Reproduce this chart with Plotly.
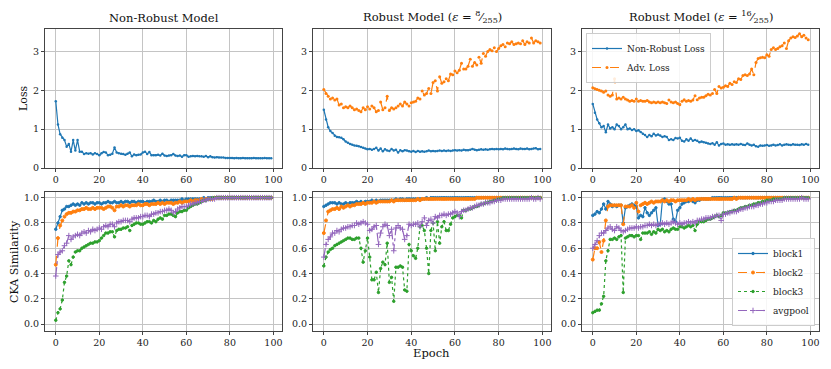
import plotly.graph_objects as go
from plotly.subplots import make_subplots

epochs = list(range(100))

# top row: loss curves
loss_nonrobust = [1.72, 1.12, 0.87, 0.78, 0.72, 0.55, 0.62, 0.42, 0.72, 0.45,
                  0.72, 0.42, 0.42, 0.36, 0.38, 0.37, 0.38, 0.35, 0.38, 0.36,
                  0.33, 0.38, 0.41, 0.40, 0.33, 0.34, 0.37, 0.53, 0.40, 0.38,
                  0.37, 0.36, 0.34, 0.37, 0.40, 0.30, 0.35, 0.33, 0.34, 0.35,
                  0.40, 0.42, 0.36, 0.41, 0.33, 0.33, 0.33, 0.34, 0.32, 0.37,
                  0.32, 0.31, 0.32, 0.33, 0.36, 0.32, 0.31, 0.32, 0.29, 0.33,
                  0.33, 0.29, 0.30, 0.31, 0.30, 0.31, 0.30, 0.30, 0.29, 0.31,
                  0.28, 0.30, 0.28, 0.27, 0.28, 0.27, 0.27, 0.27, 0.26, 0.26,
                  0.26, 0.26, 0.25, 0.26, 0.25, 0.25, 0.26, 0.25, 0.25, 0.25,
                  0.25, 0.26, 0.25, 0.25, 0.25, 0.25, 0.26, 0.25, 0.25, 0.25]

loss_eps8 = [1.50, 1.25, 1.05, 0.95, 0.90, 0.83, 0.80, 0.79, 0.78, 0.74,
             0.68, 0.65, 0.62, 0.60, 0.58, 0.57, 0.56, 0.54, 0.52, 0.50,
             0.48, 0.49, 0.47, 0.49, 0.52, 0.45, 0.50, 0.43, 0.48, 0.45,
             0.44, 0.49, 0.45, 0.47, 0.40, 0.46, 0.43, 0.46, 0.45, 0.43,
             0.42, 0.44, 0.41, 0.44, 0.42, 0.43, 0.42, 0.43, 0.45, 0.43,
             0.44, 0.43, 0.44, 0.45, 0.44, 0.45, 0.44, 0.45, 0.44, 0.45,
             0.46, 0.45, 0.46, 0.45, 0.47, 0.46, 0.46, 0.47, 0.49, 0.47,
             0.46, 0.47, 0.48, 0.47, 0.48, 0.47, 0.48, 0.49, 0.48, 0.49,
             0.48, 0.49, 0.48, 0.50, 0.49, 0.48, 0.49, 0.50, 0.49, 0.48,
             0.50, 0.49, 0.49, 0.50, 0.48, 0.49, 0.50, 0.51, 0.48, 0.49]

adv_loss_eps8 = [2.02, 1.92, 1.85, 1.78, 1.80, 1.75, 1.78, 1.62, 1.65, 1.55,
                 1.58, 1.55, 1.60, 1.55, 1.50, 1.52, 1.48, 1.45, 1.55, 1.50,
                 1.58, 1.52, 1.60, 1.55, 1.45, 1.48, 1.70, 1.50, 1.55, 1.85,
                 1.48, 1.55, 1.52, 1.55, 1.60, 1.65, 1.60, 1.70, 1.65, 1.60,
                 1.68, 1.70, 1.72, 1.80, 1.78, 1.98, 1.88, 1.92, 2.05, 1.92,
                 2.20, 2.25, 1.98, 2.35, 2.18, 2.22, 2.30, 2.25, 2.42, 2.40,
                 2.50, 2.45, 2.52, 2.70, 2.55, 2.55, 2.62, 2.80, 2.62, 2.72,
                 2.65, 2.85, 2.70, 2.95, 2.88, 3.00, 3.05, 3.02, 3.10, 3.00,
                 3.08, 3.15, 3.18, 3.12, 3.22, 3.20, 3.25, 3.18, 3.20, 3.22,
                 3.20, 3.28, 3.18, 3.25, 3.22, 3.35, 3.22, 3.28, 3.25, 3.22]

loss_eps16 = [1.65, 1.42, 1.25, 1.15, 1.05, 1.08, 0.92, 1.12, 1.02, 1.05,
              1.00, 1.12, 1.08, 1.00, 1.05, 1.12, 1.00, 1.02, 0.98, 1.00,
              0.95, 0.97, 0.93, 0.88, 0.85, 0.80, 0.85, 0.82, 0.88, 0.84,
              0.86, 0.84, 0.80, 0.82, 0.80, 0.72, 0.74, 0.72, 0.77, 0.76,
              0.78, 0.70, 0.68, 0.74, 0.70, 0.76, 0.70, 0.72, 0.70, 0.66,
              0.68, 0.66, 0.65, 0.63, 0.62, 0.64, 0.60, 0.66, 0.58, 0.62,
              0.63, 0.60, 0.61, 0.60, 0.61, 0.60, 0.61, 0.60, 0.62, 0.60,
              0.59, 0.63, 0.60, 0.58, 0.60, 0.56, 0.55, 0.58, 0.57, 0.58,
              0.59, 0.57, 0.58, 0.60, 0.58, 0.59, 0.61, 0.58, 0.60, 0.61,
              0.60, 0.59, 0.61, 0.60, 0.60, 0.59, 0.61, 0.60, 0.62, 0.60]

adv_loss_eps16 = [2.07, 2.04, 2.02, 2.00, 1.98, 1.95, 1.98, 1.88, 1.85, 1.88,
                  2.30, 1.78, 1.80, 1.78, 1.82, 1.78, 1.75, 1.72, 1.74, 1.72,
                  1.78, 1.72, 1.74, 1.72, 1.72, 1.74, 1.70, 1.68, 1.70, 1.68,
                  1.70, 1.68, 1.70, 1.68, 1.66, 1.75, 1.70, 1.68, 1.70, 1.66,
                  1.63, 1.72, 1.76, 1.72, 1.74, 1.72, 1.75, 1.86, 1.76, 1.80,
                  1.82, 1.82, 1.86, 1.90, 1.88, 1.92, 2.02, 1.92, 2.10, 2.06,
                  2.08, 2.12, 2.10, 2.18, 2.15, 2.22, 2.20, 2.30, 2.28, 2.38,
                  2.40, 2.38, 2.42, 2.55, 2.40, 2.72, 2.82, 2.84, 2.85, 2.84,
                  2.92, 2.88, 3.05, 3.10, 3.05, 3.08, 3.12, 3.15, 3.22, 3.08,
                  3.28, 3.35, 3.38, 3.36, 3.40, 3.46, 3.38, 3.42, 3.35, 3.30]

# bottom row: CKA similarity, non-robust model
nr_block1 = [0.75, 0.80, 0.85, 0.90, 0.91, 0.93, 0.93, 0.94, 0.95, 0.94,
             0.95, 0.94, 0.96, 0.95, 0.96, 0.95, 0.96, 0.96, 0.95, 0.96,
             0.96, 0.95, 0.96, 0.96, 0.97, 0.96, 0.96, 0.97, 0.96, 0.96,
             0.97, 0.96, 0.97, 0.97, 0.96, 0.97, 0.97, 0.96, 0.97, 0.97,
             0.97, 0.96, 0.97, 0.97, 0.97, 0.98, 0.97, 0.97, 0.98, 0.97,
             0.98, 0.98, 0.97, 0.98, 0.98, 0.98, 0.98, 0.98, 0.99, 0.98,
             0.99, 0.99, 0.99, 0.99, 0.99, 0.99, 0.99, 0.99, 1.00, 0.99,
             1.00, 1.00, 1.00, 1.00, 1.00, 1.00, 1.00, 1.00, 1.00, 1.00,
             1.00, 1.00, 1.00, 1.00, 1.00, 1.00, 1.00, 1.00, 1.00, 1.00,
             1.00, 1.00, 1.00, 1.00, 1.00, 1.00, 1.00, 1.00, 1.00, 1.00]
nr_block2 = [0.47, 0.68, 0.78, 0.82, 0.85, 0.87, 0.88, 0.88, 0.89, 0.89,
             0.90, 0.90, 0.91, 0.91, 0.92, 0.91, 0.91, 0.92, 0.91, 0.92,
             0.92, 0.92, 0.91, 0.92, 0.93, 0.93, 0.92, 0.90, 0.93, 0.93,
             0.94, 0.93, 0.94, 0.94, 0.93, 0.94, 0.94, 0.94, 0.95, 0.94,
             0.94, 0.95, 0.95, 0.94, 0.95, 0.95, 0.95, 0.96, 0.95, 0.96,
             0.95, 0.96, 0.96, 0.96, 0.95, 0.96, 0.96, 0.97, 0.96, 0.97,
             0.97, 0.97, 0.98, 0.97, 0.98, 0.98, 0.98, 0.99, 0.98, 0.99,
             0.99, 0.99, 0.99, 1.00, 1.00, 1.00, 1.00, 1.00, 1.00, 1.00,
             1.00, 1.00, 1.00, 1.00, 1.00, 1.00, 1.00, 1.00, 1.00, 1.00,
             1.00, 1.00, 1.00, 1.00, 1.00, 1.00, 1.00, 1.00, 1.00, 1.00]
nr_block3 = [0.03, 0.09, 0.12, 0.19, 0.33, 0.38, 0.50, 0.47, 0.53, 0.57,
             0.58, 0.58, 0.60, 0.61, 0.62, 0.63, 0.64, 0.64, 0.65, 0.65,
             0.66, 0.68, 0.70, 0.72, 0.72, 0.73, 0.73, 0.69, 0.74, 0.75,
             0.75, 0.76, 0.76, 0.77, 0.74, 0.78, 0.79, 0.80, 0.80, 0.79,
             0.79, 0.80, 0.81, 0.81, 0.80, 0.82, 0.81, 0.83, 0.84, 0.83,
             0.86, 0.86, 0.87, 0.87, 0.86, 0.85, 0.88, 0.89, 0.89, 0.90,
             0.90, 0.92, 0.93, 0.94, 0.95, 0.95, 0.96, 0.97, 0.98, 0.98,
             0.99, 0.99, 1.00, 1.00, 1.00, 1.00, 1.00, 1.00, 1.00, 1.00,
             1.00, 1.00, 1.00, 1.00, 1.00, 1.00, 1.00, 1.00, 1.00, 1.00,
             1.00, 1.00, 1.00, 1.00, 1.00, 1.00, 1.00, 1.00, 1.00, 1.00]
nr_avgpool = [0.38, 0.55, 0.57, 0.58, 0.62, 0.64, 0.70, 0.67, 0.69, 0.70,
              0.71, 0.70, 0.72, 0.73, 0.72, 0.74, 0.73, 0.75, 0.74, 0.75,
              0.76, 0.75, 0.77, 0.78, 0.77, 0.79, 0.79, 0.77, 0.80, 0.81,
              0.81, 0.82, 0.82, 0.82, 0.81, 0.83, 0.84, 0.84, 0.84, 0.85,
              0.85, 0.86, 0.86, 0.85, 0.87, 0.87, 0.88, 0.88, 0.89, 0.89,
              0.90, 0.90, 0.91, 0.90, 0.88, 0.89, 0.91, 0.92, 0.93, 0.93,
              0.93, 0.94, 0.95, 0.95, 0.96, 0.96, 0.97, 0.97, 0.98, 0.98,
              0.99, 0.99, 0.99, 0.99, 1.00, 1.00, 1.00, 1.00, 1.00, 1.00,
              1.00, 1.00, 1.00, 1.00, 1.00, 1.00, 1.00, 1.00, 1.00, 1.00,
              1.00, 1.00, 1.00, 1.00, 1.00, 1.00, 1.00, 1.00, 1.00, 1.00]

# robust eps=8/255
e8_block1 = [0.93, 0.94, 0.95, 0.96, 0.96, 0.96, 0.95, 0.96, 0.95, 0.95,
             0.96, 0.95, 0.96, 0.96, 0.96, 0.97, 0.96, 0.97, 0.96, 0.97,
             0.97, 0.97, 0.98, 0.97, 0.98, 0.97, 0.98, 0.98, 0.98, 0.98,
             0.98, 0.98, 0.98, 0.99, 0.98, 0.99, 0.99, 0.98, 0.99, 0.99,
             0.99, 0.99, 0.99, 0.99, 0.99, 0.99, 0.99, 1.00, 0.99, 1.00,
             1.00, 1.00, 1.00, 1.00, 1.00, 1.00, 1.00, 1.00, 1.00, 1.00,
             1.00, 1.00, 1.00, 1.00, 1.00, 1.00, 1.00, 1.00, 1.00, 1.00,
             1.00, 1.00, 1.00, 1.00, 1.00, 1.00, 1.00, 1.00, 1.00, 1.00,
             1.00, 1.00, 1.00, 1.00, 1.00, 1.00, 1.00, 1.00, 1.00, 1.00,
             1.00, 1.00, 1.00, 1.00, 1.00, 1.00, 1.00, 1.00, 1.00, 1.00]
e8_block2 = [0.72, 0.82, 0.89, 0.90, 0.91, 0.91, 0.92, 0.91, 0.93, 0.92,
             0.93, 0.94, 0.93, 0.94, 0.94, 0.95, 0.95, 0.95, 0.96, 0.95,
             0.96, 0.96, 0.96, 0.97, 0.96, 0.97, 0.97, 0.97, 0.97, 0.97,
             0.97, 0.98, 0.97, 0.98, 0.98, 0.98, 0.98, 0.98, 0.98, 0.98,
             0.98, 0.98, 0.98, 0.99, 0.98, 0.99, 0.99, 0.99, 0.99, 0.99,
             0.99, 0.99, 0.99, 0.99, 0.99, 0.99, 0.99, 0.99, 0.99, 0.99,
             0.99, 0.99, 0.99, 0.99, 0.99, 0.99, 0.99, 0.99, 0.99, 0.99,
             1.00, 1.00, 1.00, 1.00, 1.00, 1.00, 1.00, 1.00, 1.00, 1.00,
             1.00, 1.00, 1.00, 1.00, 1.00, 1.00, 1.00, 1.00, 1.00, 1.00,
             1.00, 1.00, 1.00, 1.00, 1.00, 1.00, 1.00, 1.00, 1.00, 1.00]
e8_block3 = [0.46, 0.53, 0.57, 0.59, 0.60, 0.62, 0.63, 0.64, 0.65, 0.66,
             0.67, 0.68, 0.68, 0.67, 0.67, 0.68, 0.68, 0.60, 0.49, 0.58,
             0.68, 0.53, 0.35, 0.35, 0.41, 0.25, 0.44, 0.49, 0.47, 0.64,
             0.33, 0.37, 0.18, 0.45, 0.45, 0.46, 0.45, 0.27, 0.26, 0.63,
             0.58, 0.54, 0.52, 0.60, 0.77, 0.78, 0.74, 0.60, 0.40, 0.74,
             0.80, 0.58, 0.81, 0.64, 0.77, 0.81, 0.74, 0.74, 0.79, 0.84,
             0.85, 0.86, 0.86, 0.84, 0.90, 0.90, 0.91, 0.91, 0.92, 0.93,
             0.93, 0.94, 0.95, 0.95, 0.96, 0.96, 0.97, 0.97, 0.98, 0.98,
             0.99, 0.99, 1.00, 1.00, 1.00, 1.00, 1.00, 1.00, 1.00, 1.00,
             1.00, 1.00, 1.00, 1.00, 1.00, 1.00, 1.00, 1.00, 1.00, 1.00]
e8_avgpool = [0.53, 0.63, 0.67, 0.69, 0.72, 0.72, 0.74, 0.73, 0.75, 0.76,
              0.76, 0.77, 0.77, 0.78, 0.78, 0.80, 0.79, 0.80, 0.81, 0.80,
              0.79, 0.74, 0.75, 0.77, 0.78, 0.63, 0.72, 0.77, 0.79, 0.78,
              0.70, 0.75, 0.58, 0.76, 0.78, 0.76, 0.75, 0.67, 0.70, 0.79,
              0.78, 0.79, 0.79, 0.80, 0.77, 0.81, 0.84, 0.78, 0.82, 0.83,
              0.80, 0.85, 0.84, 0.86, 0.86, 0.87, 0.86, 0.87, 0.87, 0.88,
              0.89, 0.88, 0.85, 0.89, 0.90, 0.90, 0.91, 0.92, 0.92, 0.93,
              0.94, 0.94, 0.95, 0.95, 0.96, 0.96, 0.96, 0.97, 0.97, 0.98,
              0.98, 0.98, 0.99, 0.99, 0.99, 0.99, 0.99, 0.99, 0.99, 0.99,
              0.99, 0.99, 0.99, 0.99, 0.99, 1.00, 0.99, 0.99, 1.00, 0.99]

# robust eps=16/255
e16_block1 = [0.86, 0.87, 0.89, 0.88, 0.91, 0.95, 0.91, 0.97, 0.95, 0.93,
              0.94, 0.93, 0.94, 0.94, 0.80, 0.92, 0.93, 0.94, 0.95, 0.94,
              0.93, 0.84, 0.86, 0.85, 0.92, 0.88, 0.86, 0.88, 0.90, 0.92,
              0.78, 0.79, 0.98, 0.99, 0.97, 0.95, 0.95, 0.83, 0.81, 0.90,
              0.92, 0.95, 0.96, 0.97, 0.97, 0.98, 0.97, 0.96, 0.98, 0.98,
              0.99, 0.99, 0.99, 0.99, 0.99, 1.00, 1.00, 1.00, 1.00, 1.00,
              1.00, 1.00, 1.00, 1.00, 1.00, 1.00, 1.00, 1.00, 1.00, 1.00,
              1.00, 1.00, 1.00, 1.00, 1.00, 1.00, 1.00, 1.00, 1.00, 1.00,
              1.00, 1.00, 1.00, 1.00, 1.00, 1.00, 1.00, 1.00, 1.00, 1.00,
              1.00, 1.00, 1.00, 1.00, 1.00, 1.00, 1.00, 1.00, 1.00, 1.00]
e16_block2 = [0.51, 0.60, 0.60, 0.65, 0.57, 0.66, 0.82, 0.93, 0.94, 0.94,
              0.94, 0.94, 0.94, 0.94, 0.79, 0.93, 0.93, 0.93, 0.94, 0.92,
              0.96, 0.89, 0.94, 0.95, 0.96, 0.95, 0.96, 0.97, 0.96, 0.97,
              0.97, 0.97, 0.98, 0.97, 0.98, 0.97, 0.98, 0.98, 0.97, 0.98,
              0.98, 0.98, 0.98, 0.98, 0.99, 0.98, 0.99, 0.98, 0.99, 0.99,
              0.99, 0.99, 0.99, 0.99, 0.99, 0.99, 0.99, 0.99, 0.99, 0.99,
              0.99, 0.99, 0.99, 0.99, 0.99, 1.00, 0.99, 1.00, 1.00, 1.00,
              1.00, 1.00, 1.00, 1.00, 1.00, 1.00, 1.00, 1.00, 1.00, 1.00,
              1.00, 1.00, 1.00, 1.00, 1.00, 1.00, 1.00, 1.00, 1.00, 1.00,
              1.00, 1.00, 1.00, 1.00, 1.00, 1.00, 1.00, 1.00, 1.00, 1.00]
e16_block3 = [0.09, 0.10, 0.11, 0.11, 0.16, 0.22, 0.50, 0.58, 0.67, 0.67,
              0.68, 0.67, 0.69, 0.70, 0.25, 0.68, 0.69, 0.70, 0.70, 0.69,
              0.70, 0.70, 0.67, 0.72, 0.72, 0.72, 0.73, 0.71, 0.73, 0.72,
              0.75, 0.74, 0.75, 0.73, 0.74, 0.73, 0.75, 0.76, 0.75, 0.75,
              0.77, 0.77, 0.76, 0.77, 0.78, 0.77, 0.78, 0.74, 0.79, 0.81,
              0.81, 0.81, 0.82, 0.83, 0.83, 0.84, 0.85, 0.86, 0.85, 0.86,
              0.88, 0.88, 0.88, 0.89, 0.89, 0.90, 0.90, 0.91, 0.92, 0.92,
              0.93, 0.93, 0.94, 0.94, 0.95, 0.95, 0.96, 0.96, 0.97, 0.97,
              0.98, 0.98, 0.98, 0.99, 0.99, 0.99, 0.99, 0.99, 1.00, 1.00,
              1.00, 1.00, 1.00, 1.00, 1.00, 1.00, 1.00, 1.00, 1.00, 1.00]
e16_avgpool = [0.60, 0.63, 0.66, 0.70, 0.72, 0.72, 0.74, 0.76, 0.77, 0.75,
               0.74, 0.77, 0.76, 0.74, 0.73, 0.74, 0.75, 0.76, 0.76, 0.76,
               0.77, 0.76, 0.77, 0.77, 0.78, 0.78, 0.79, 0.78, 0.79, 0.78,
               0.79, 0.79, 0.80, 0.79, 0.80, 0.79, 0.80, 0.81, 0.80, 0.79,
               0.80, 0.79, 0.80, 0.80, 0.81, 0.80, 0.81, 0.80, 0.82, 0.82,
               0.83, 0.83, 0.84, 0.84, 0.84, 0.85, 0.85, 0.86, 0.86, 0.82,
               0.87, 0.87, 0.88, 0.88, 0.89, 0.89, 0.89, 0.90, 0.91, 0.91,
               0.92, 0.92, 0.93, 0.93, 0.93, 0.94, 0.94, 0.95, 0.95, 0.96,
               0.96, 0.97, 0.97, 0.97, 0.98, 0.98, 0.98, 0.98, 0.99, 0.99,
               0.99, 0.99, 0.99, 0.99, 0.99, 0.99, 1.00, 0.99, 0.99, 0.99]

titles = ["Non-Robust Model",
          "Robust Model (<i>ε</i> = <sup>8</sup>&#8260;<sub>255</sub>)",
          "Robust Model (<i>ε</i> = <sup>16</sup>&#8260;<sub>255</sub>)"]
x_ticks = [0, 20, 40, 60, 80, 100]

BLUE, ORANGE, GREEN, PURPLE = "#1f77b4", "#ff7f0e", "#2ca02c", "#9467bd"
FONT = "DejaVu Serif"

fig = make_subplots(rows=2, cols=3)

loss_sets = [(loss_nonrobust, None), (loss_eps8, adv_loss_eps8), (loss_eps16, adv_loss_eps16)]
for c, (clean, adv) in enumerate(loss_sets, start=1):
    fig.add_trace(go.Scatter(x=epochs, y=clean, mode="lines+markers", name="Non-Robust Loss",
                             line=dict(color=BLUE, width=1.2), marker=dict(size=2.5, color=BLUE),
                             showlegend=(c == 3), legend="legend"), row=1, col=c)
    if adv is not None:
        fig.add_trace(go.Scatter(x=epochs, y=adv, mode="lines+markers", name="Adv. Loss",
                                 line=dict(color=ORANGE, width=1.2, dash="dash"),
                                 marker=dict(size=3, color=ORANGE),
                                 showlegend=(c == 3), legend="legend"), row=1, col=c)

cka_sets = [(nr_block1, nr_block2, nr_block3, nr_avgpool),
            (e8_block1, e8_block2, e8_block3, e8_avgpool),
            (e16_block1, e16_block2, e16_block3, e16_avgpool)]
styles = [("block1", BLUE, "solid", "circle", 2.5),
          ("block2", ORANGE, "dash", "circle", 3),
          ("block3", GREEN, "dot", "circle", 2.5),
          ("avgpool", PURPLE, "dashdot", "cross-thin", 4)]
for c, series in enumerate(cka_sets, start=1):
    for vals, (name, color, dash, sym, ms) in zip(series, styles):
        fig.add_trace(go.Scatter(x=epochs, y=vals, mode="lines+markers", name=name,
                                 line=dict(color=color, width=1.2, dash=dash),
                                 marker=dict(size=ms, color=color, symbol=sym,
                                             line=dict(width=1, color=color)),
                                 showlegend=(c == 3), legend="legend2"), row=2, col=c)

xdoms = [[45 / 831, 282 / 831], [313 / 831, 551 / 831], [582 / 831, 819 / 831]]
ydoms = [[1 - 168 / 369, 1 - 29 / 369], [1 - 331 / 369, 1 - 192 / 369]]

axis_style = dict(showline=True, mirror=True, linecolor="#444", linewidth=1,
                  showgrid=True, gridcolor="#c4c4c4", gridwidth=1, zeroline=False,
                  ticks="outside", ticklen=3, tickcolor="#444", automargin=False,
                  tickfont=dict(family=FONT, size=9.5, color="#222"))

for r in range(2):
    for c in range(3):
        idx = r * 3 + c + 1
        sfx = "" if idx == 1 else str(idx)
        fig.layout["xaxis" + sfx].update(domain=xdoms[c], range=[-4.95, 103.95],
                                          tickvals=x_ticks, **axis_style)
        if r == 0:
            fig.layout["yaxis" + sfx].update(domain=ydoms[0], range=[0, 3.58],
                                              tickvals=[0, 1, 2, 3], **axis_style)
        else:
            fig.layout["yaxis" + sfx].update(domain=ydoms[1], range=[-0.055, 1.045],
                                              tickvals=[0, 0.2, 0.4, 0.6, 0.8, 1.0],
                                              tickformat=".1f", **axis_style)

annotations = []
for c in range(3):
    annotations.append(dict(text=titles[c], xref="paper", yref="paper",
                            x=(xdoms[c][0] + xdoms[c][1]) / 2, y=1 - 29 / 369,
                            yshift=2, xanchor="center", yanchor="bottom", showarrow=False,
                            font=dict(family=FONT, size=11.5, color="#111")))
annotations.append(dict(text="Loss", xref="paper", yref="paper", x=23 / 831, y=1 - 98 / 369,
                        textangle=-90, showarrow=False, xanchor="center", yanchor="middle",
                        font=dict(family=FONT, size=11, color="#111")))
annotations.append(dict(text="CKA Similarity", xref="paper", yref="paper", x=14 / 831,
                        y=1 - 262 / 369, textangle=-90, showarrow=False,
                        xanchor="center", yanchor="middle",
                        font=dict(family=FONT, size=11, color="#111")))
annotations.append(dict(text="Epoch", xref="paper", yref="paper", x=432 / 831, y=1 - 353 / 369,
                        showarrow=False, xanchor="center", yanchor="middle",
                        font=dict(family=FONT, size=11.5, color="#111")))

legend_style = dict(bgcolor="rgba(255,255,255,0.85)", bordercolor="#cccccc", borderwidth=1,
                    font=dict(family=FONT, size=9, color="#222"), tracegroupgap=0,
                    itemwidth=30)

fig.update_layout(
    width=831, height=369,
    margin=dict(l=0, r=0, t=0, b=0),
    paper_bgcolor="white", plot_bgcolor="white",
    font=dict(family=FONT, color="#222"),
    annotations=annotations,
    legend=dict(x=586 / 831, y=1 - 33 / 369, xanchor="left", yanchor="top", **legend_style),
    legend2=dict(x=815 / 831, y=1 - 326 / 369, xanchor="right", yanchor="bottom", **legend_style),
)

# the page body has a default 8px margin; drop it so the figure sits at the window origin
fig.write_html("out.html", config={"displayModeBar": False},
               post_script="document.body.style.margin='0';")
